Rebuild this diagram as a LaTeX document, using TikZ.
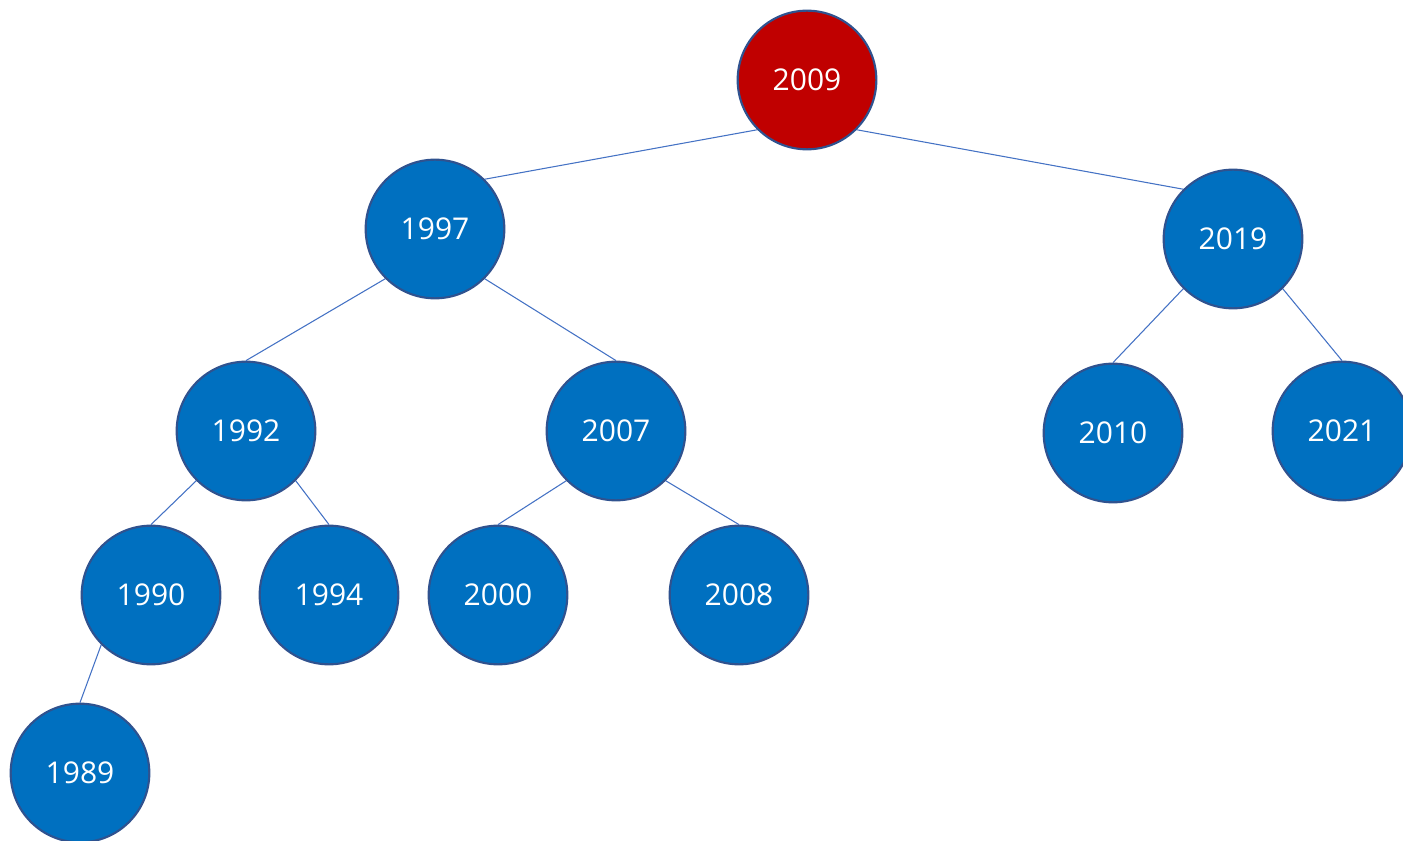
\documentclass[tikz,border=0pt]{standalone}
\usepackage{fontspec}
\setmainfont{Open Sans}
\definecolor{nodeblue}{HTML}{0070C0}
\definecolor{nodered}{HTML}{C00000}
\definecolor{rimblue}{HTML}{2F528F}
\definecolor{edgeblue}{HTML}{4472C4}
\begin{document}
\begin{tikzpicture}[x=0.75pt,y=-0.75pt,
  yearnode/.style={circle,draw=rimblue,line width=1.6pt,fill=nodeblue,text=white,
    minimum size=104pt,inner sep=0pt,font=\fontsize{22.5}{26}\selectfont},
  rootnode/.style={yearnode,fill=nodered},
  link/.style={draw=edgeblue,line width=0.8pt}]
\useasboundingbox (0,0) rectangle (1403,841);
\node[rootnode] (n2009) at (807,80) {2009};
\node[yearnode] (n1997) at (435,229) {1997};
\node[yearnode] (n2019) at (1233,239) {2019};
\node[yearnode] (n1992) at (246,431) {1992};
\node[yearnode] (n2007) at (616,431) {2007};
\node[yearnode] (n2010) at (1113,433) {2010};
\node[yearnode] (n2021) at (1342,431) {2021};
\node[yearnode] (n1990) at (151,595) {1990};
\node[yearnode] (n1994) at (329,595) {1994};
\node[yearnode] (n2000) at (498,595) {2000};
\node[yearnode] (n2008) at (739,595) {2008};
\node[yearnode] (n1989) at (80,773) {1989};
\path[link] (n2009.225) -- (n1997.45);
\path[link] (n2009.315) -- (n2019.135);
\path[link] (n1997.225) -- (n1992.north);
\path[link] (n1997.315) -- (n2007.north);
\path[link] (n2019.225) -- (n2010.north);
\path[link] (n2019.315) -- (n2021.north);
\path[link] (n1992.225) -- (n1990.north);
\path[link] (n1992.315) -- (n1994.north);
\path[link] (n2007.225) -- (n2000.north);
\path[link] (n2007.315) -- (n2008.north);
\path[link] (n1990.225) -- (n1989.north);
\end{tikzpicture}
\end{document}
